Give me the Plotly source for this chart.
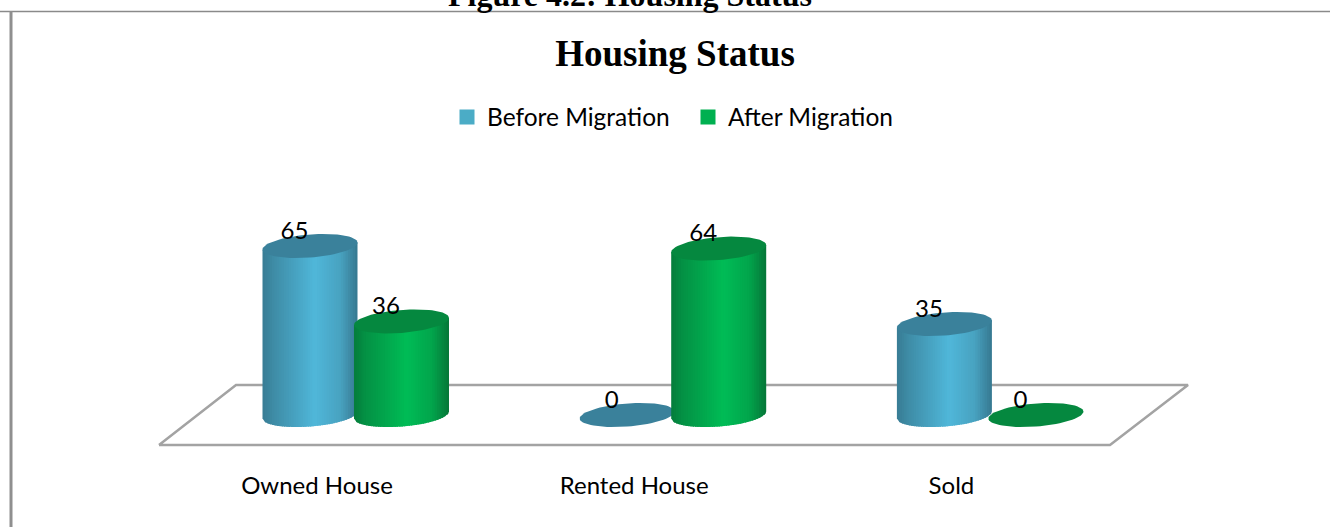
import numpy as np
import plotly.graph_objects as go

# ---- data ----
categories = ["Owned House", "Rented House", "Sold"]
before_migration = [65, 0, 35]
after_migration = [36, 64, 0]
series_names = ["Before Migration", "After Migration"]
chart_title = "Housing Status"
figure_caption = "Figure 4.2: Housing Status"

# ---- pixel scale of the page (axes fill the whole figure) ----
W, H = 1330, 527
PX_PER_UNIT = 2.6
BASE_PX = 415.0
CAT0_PX, CAT_STEP = 317.0, 317.2
X_RANGE = [(0 - CAT0_PX) / CAT_STEP, (W - CAT0_PX) / CAT_STEP]
Y_RANGE = [(BASE_PX - H) / PX_PER_UNIT, BASE_PX / PX_PER_UNIT]
dx_px = lambda p: p / CAT_STEP
dy_px = lambda p: p / PX_PER_UNIT

A = dx_px(47.5)       # half-width of a cylinder
B = dy_px(11.5)       # half-height of its ellipse
TILT = dy_px(3.5)     # rise from centre to right end
OFFSETS = [dx_px(-7), dx_px(84.5)]

STYLE = [
    dict(stops=[(0, (56, 124, 148)), (0.12, (62, 140, 166)), (0.55, (80, 183, 217)),
                (0.82, (72, 162, 192)), (1, (54, 120, 144))],
         top="#3a819b", legend="#4bacc6"),
    dict(stops=[(0, (5, 125, 60)), (0.12, (4, 145, 68)), (0.55, (0, 188, 86)),
                (0.82, (2, 165, 76)), (1, (6, 118, 56))],
         top="#05883f", legend="#00b050"),
]


def ramp(stops, t):
    xs = [s[0] for s in stops]
    rgb = [np.interp(t, xs, [s[1][i] for s in stops]) for i in range(3)]
    return "rgb(%d,%d,%d)" % tuple(int(round(v)) for v in rgb)


traces = []

# floor of the 3-D chart
floor_px = [(159, 445), (1110, 445), (1188, 385), (236, 385), (159, 445)]
traces.append(go.Scatter(
    x=[(p[0] - CAT0_PX) / CAT_STEP for p in floor_px],
    y=[(BASE_PX - p[1]) / PX_PER_UNIT for p in floor_px],
    mode="lines", line=dict(color="#a3a3a3", width=2.5), fill="toself",
    fillcolor="white", hoverinfo="skip", showlegend=False))


def cylinder(cx, value, style):
    out = []
    n = 40
    if value > 0:
        edges = np.linspace(-1, 1, n + 1)
        for j in range(n):
            u0, u1 = edges[j], min(edges[j + 1] + 0.03, 1)
            us = np.linspace(u0, u1, 4)
            low = TILT * us - B * np.sqrt(np.clip(1 - us ** 2, 0, 1))
            high = TILT * us[::-1] + value
            out.append(go.Scatter(
                x=np.r_[cx + A * us, cx + A * us[::-1]],
                y=np.r_[low, high],
                mode="lines", line=dict(width=0), fill="toself",
                fillcolor=ramp(style["stops"], (j + 0.5) / n),
                hoverinfo="skip", showlegend=False))
    t = np.linspace(0, 2 * np.pi, 73)
    out.append(go.Scatter(
        x=cx + A * np.cos(t),
        y=value + TILT * np.cos(t) + B * np.sin(t),
        mode="lines", line=dict(width=0), fill="toself",
        fillcolor=style["top"], hoverinfo="skip", showlegend=False))
    return out


series = [before_migration, after_migration]
for i in range(len(categories)):
    for s, values in enumerate(series):
        traces += cylinder(i + OFFSETS[s], values[i], STYLE[s])

# data labels
for s, values in enumerate(series):
    traces.append(go.Scatter(
        x=[i + OFFSETS[s] - dx_px(15.5) for i in range(len(values))],
        y=[v + dy_px(13.5) for v in values],
        mode="text", text=[str(v) for v in values], textposition="middle center",
        textfont=dict(family="Lato", size=24, color="#000000"),
        cliponaxis=False, hoverinfo="skip", showlegend=False))

# legend entries
for s, name in enumerate(series_names):
    traces.append(go.Scatter(
        x=[None], y=[None], mode="markers", name=name,
        marker=dict(symbol="square", size=15, color=STYLE[s]["legend"])))

fig = go.Figure(traces)
fig.update_layout(
    width=W, height=H, autosize=False,
    margin=dict(l=0, r=0, t=0, b=0),
    paper_bgcolor="white", plot_bgcolor="rgba(0,0,0,0)",
    font=dict(family="Lato", size=24, color="#000000"),
    title=dict(text="<b>%s</b>" % chart_title, x=675 / W, xanchor="center",
               y=1 - 53 / H, yanchor="middle",
               font=dict(family="Liberation Serif", size=37, color="#000000")),
    xaxis=dict(range=X_RANGE, tickmode="array", tickvals=list(range(len(categories))),
               ticktext=categories, showgrid=False, zeroline=False, showline=False,
               ticks="", anchor="free", position=1 - 469 / H,
               tickfont=dict(family="Lato", size=24, color="#000000")),
    yaxis=dict(range=Y_RANGE, visible=False, showgrid=False, zeroline=False),
    legend=dict(orientation="h", x=447 / W, xanchor="left", y=1 - 117 / H, yanchor="middle",
                entrywidth=196, entrywidthmode="pixels", itemclick=False, itemdoubleclick=False,
                font=dict(family="Lato", size=24.5, color="#000000"), bgcolor="rgba(0,0,0,0)"),
    annotations=[dict(text="<b>%s</b>" % figure_caption, xref="paper", yref="paper",
                      x=630 / W, y=1 - (-5) / H, xanchor="center", yanchor="middle",
                      showarrow=False,
                      font=dict(family="Liberation Serif", size=32, color="#000000"))],
    shapes=[
        dict(type="line", xref="paper", yref="paper", x0=0, x1=1, y0=1 - 11.5 / H, y1=1 - 11.5 / H,
             line=dict(color="#8a8a8a", width=1.5)),
        dict(type="line", xref="paper", yref="paper", x0=11 / W, x1=11 / W, y0=0, y1=1 - 11 / H,
             line=dict(color="#8f8f8f", width=3)),
    ],
)
fig.write_html("out.html", config=dict(displayModeBar=False),
               post_script="document.body.style.margin='0';")
